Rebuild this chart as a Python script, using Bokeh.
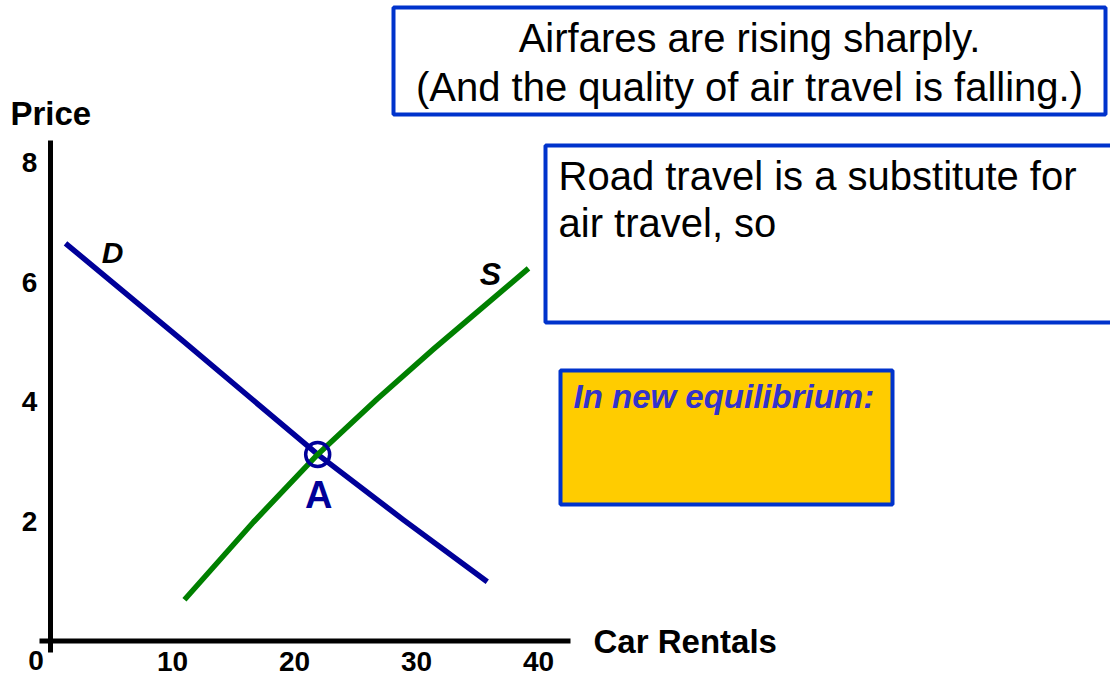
from bokeh.plotting import figure
from bokeh.models import Range1d
from bokeh.core.properties import value
from bokeh.embed import file_html
from bokeh.resources import INLINE

# Demand and supply for car rentals (quantity, price)
demand_q = [1.23, 10.9, 21.9, 28.9, 35.8]
demand_p = [6.65, 5.01, 3.12, 2.03, 0.99]
supply_q = [10.98, 16.64, 21.9, 26.8, 31.39, 39.18]
supply_p = [0.69, 1.99, 3.12, 4.05, 4.88, 6.23]
eq_q = [21.9]
eq_p = [3.12]

x_ticks = [10, 20, 30, 40]
x_tick_labels = ["10", "20", "30", "40"]
y_ticks = [2, 4, 6, 8]
y_tick_labels = ["2", "4", "6", "8"]

title_lines = ["Airfares are rising sharply.",
               "(And the quality of air travel is falling.)"]
note_lines = ["Road travel is a substitute for", "air travel, so"]
equilibrium_note = "In new equilibrium:"

W, H = 1110, 678
ORIGIN_X, ORIGIN_Y = 50.0, 640.5      # screen position of (0, 0)
PX_PER_Q, PX_PER_P = 12.2, 59.8        # pixels per data unit
BASELINE_SHIFT = 0.36                  # svg alphabetic baseline correction (em)


def sx(px):
    """screen x (pixels from left) -> quantity"""
    return (px - ORIGIN_X) / PX_PER_Q


def sy(py):
    """screen y (pixels from top) -> price"""
    return (ORIGIN_Y - py) / PX_PER_P


def base(py, size):
    """price coordinate that puts a text baseline at screen row py"""
    return sy(py - BASELINE_SHIFT * size)


FONT = value("Liberation Sans")
NAVY = "#000099"
GREEN = "#008000"
BORDER = "#0033cc"

p = figure(width=W, height=H,
           x_range=Range1d(sx(0), sx(W)), y_range=Range1d(sy(H), sy(0)),
           x_axis_location=None, y_axis_location=None,
           output_backend="svg", toolbar_location=None,
           min_border=0, min_border_left=0, min_border_right=0,
           min_border_top=0, min_border_bottom=0)
p.grid.visible = False
p.outline_line_color = None
p.background_fill_color = "white"
p.border_fill_color = "white"

# axes drawn as heavy black lines crossing at the origin
p.segment(x0=[0], y0=[sy(652)], x1=[0], y1=[sy(140)], line_color="black", line_width=5)
p.segment(x0=[sx(39)], y0=[0], x1=[sx(570)], y1=[0], line_color="black", line_width=5)

# tick labels
TICK = 28
p.text(x=x_ticks, y=[base(671, TICK)] * len(x_ticks), text=x_tick_labels,
       text_font=FONT, text_font_style="bold", text_font_size=f"{TICK}px",
       text_align="center", text_baseline="alphabetic", text_color="black")
p.text(x=[sx(29)] * len(y_ticks),
       y=[t - (10 - BASELINE_SHIFT * TICK) / PX_PER_P for t in y_ticks],
       text=y_tick_labels,
       text_font=FONT, text_font_style="bold", text_font_size=f"{TICK}px",
       text_align="center", text_baseline="alphabetic", text_color="black")
p.text(x=[sx(35.5)], y=[base(670, TICK)], text=["0"],
       text_font=FONT, text_font_style="bold", text_font_size=f"{TICK}px",
       text_align="center", text_baseline="alphabetic", text_color="black")

# axis titles
p.text(x=[sx(10)], y=[base(125, 33)], text=["Price"],
       text_font=FONT, text_font_style="bold", text_font_size="33px",
       text_align="left", text_baseline="alphabetic", text_color="black")
p.text(x=[sx(593)], y=[base(653, 33)], text=["Car Rentals"],
       text_font=FONT, text_font_style="bold", text_font_size="33px",
       text_align="left", text_baseline="alphabetic", text_color="black")

# curves
p.line(demand_q, demand_p, line_color=NAVY, line_width=5.5, line_join="round")
p.line(supply_q, supply_p, line_color=GREEN, line_width=5.5, line_join="round")

p.text(x=[sx(112)], y=[base(263, 30)], text=["D"],
       text_font=FONT, text_font_style="bold italic", text_font_size="30px",
       text_align="center", text_baseline="alphabetic", text_color="black")
p.text(x=[sx(490)], y=[base(285, 32)], text=["S"],
       text_font=FONT, text_font_style="bold italic", text_font_size="32px",
       text_align="center", text_baseline="alphabetic", text_color="black")

# equilibrium point A
p.scatter(eq_q, eq_p, marker="circle", size=24, fill_color=None,
          line_color=NAVY, line_width=3.5)
p.text(x=[eq_q[0] + 1 / PX_PER_Q],
       y=[eq_p[0] - (54 - BASELINE_SHIFT * 38) / PX_PER_P], text=["A"],
       text_font=FONT, text_font_style="bold", text_font_size="38px",
       text_align="center", text_baseline="alphabetic", text_color=NAVY)

# headline box
p.quad(left=[sx(393)], right=[sx(1105)], top=[sy(7)], bottom=[sy(114)],
       fill_color="white", line_color=BORDER, line_width=4)
p.text(x=[sx(749)] * 2, y=[base(52, 40), base(101, 40)], text=title_lines,
       text_font=FONT, text_font_size="40px",
       text_align="center", text_baseline="alphabetic", text_color="black")

# substitute note box (runs off the right edge)
p.quad(left=[sx(545)], right=[sx(1125)], top=[sy(145)], bottom=[sy(322)],
       fill_color="white", line_color=BORDER, line_width=4)
p.text(x=[sx(558)] * 2, y=[base(190, 40), base(237, 40)], text=note_lines,
       text_font=FONT, text_font_size="40px",
       text_align="left", text_baseline="alphabetic", text_color="black")

# new equilibrium box
p.quad(left=[sx(560)], right=[sx(892)], top=[sy(370)], bottom=[sy(504)],
       fill_color="#FFCC00", line_color=BORDER, line_width=4)
p.text(x=[sx(573)], y=[base(408, 33)], text=[equilibrium_note],
       text_font=FONT, text_font_style="bold italic", text_font_size="33px",
       text_align="left", text_baseline="alphabetic", text_color="#3333cc")

open("out.html", "w").write(file_html(p, INLINE))
